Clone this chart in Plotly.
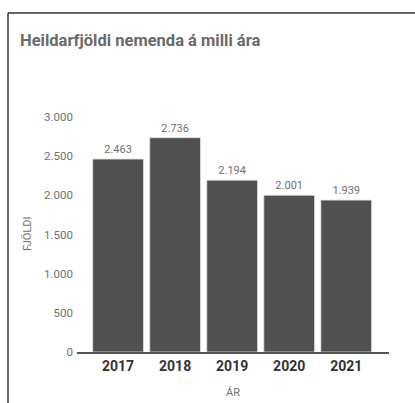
import plotly.graph_objects as go

years = ["2017", "2018", "2019", "2020", "2021"]
students = [2463, 2736, 2194, 2001, 1939]
y_ticks = [0, 500, 1000, 1500, 2000, 2500, 3000]
y_tick_labels = ["0", "500", "1.000", "1.500", "2.000", "2.500", "3.000"]
value_labels = ["2.463", "2.736", "2.194", "2.001", "1.939"]

W, H = 415, 403
L, R, T, B = 77, 26, 117, 51
pw, ph = W - L - R, H - T - B

def px(x):
    return (x - L) / pw

def py(y):
    return (H - B - y) / ph

FONT = "Liberation Sans Narrow, Roboto, sans-serif"

fig = go.Figure(go.Bar(
    x=years, y=students,
    text=value_labels, textposition="outside", cliponaxis=False,
    textfont=dict(size=11, color="#707070", family=FONT),
    marker=dict(color="#505050", line=dict(color="#e0e0e0", width=0.8)),
    width=0.89,
))

fig.update_layout(
    width=W, height=H,
    margin=dict(l=L, r=R, t=T, b=B),
    paper_bgcolor="white", plot_bgcolor="white",
    showlegend=False,
    separators=",.",
    title=dict(text="<b>Heildarfjöldi nemenda á milli ára</b>",
               x=20 / W, xref="container", xanchor="left",
               y=1 - 40 / H, yref="container", yanchor="middle",
               font=dict(size=16.5, color="#6a6a6a", family="Roboto, sans-serif")),
    xaxis=dict(type="category", range=[-0.72, 4.75], showline=True,
               linecolor="#555555", linewidth=1.5, showgrid=False, ticks="",
               tickfont=dict(size=14, color="#333333", family=FONT, weight="bold")),
    yaxis=dict(range=[0, 3000], tickvals=y_ticks, ticktext=y_tick_labels,
               showgrid=False, showline=False, zeroline=False, ticks="",
               ticklabelstandoff=3,
               tickfont=dict(size=11.5, color="#707070", family=FONT)),
    annotations=[
        dict(text="FJÖLDI", xref="paper", yref="paper", x=px(27), y=py(234),
             xanchor="center", yanchor="middle",
             textangle=-90, showarrow=False,
             font=dict(size=11, color="#707070", family=FONT)),
        dict(text="ÁR", xref="paper", yref="paper", x=px(233), y=py(392),
             xanchor="center", yanchor="middle",
             showarrow=False, font=dict(size=11, color="#707070", family=FONT)),
    ],
    shapes=[
        dict(type="line", xref="paper", yref="paper", x0=px(8), x1=px(W + 5),
             y0=py(13), y1=py(13), line=dict(color="#333333", width=1.5)),
        dict(type="line", xref="paper", yref="paper", x0=px(8), x1=px(8),
             y0=py(13), y1=py(H + 5), line=dict(color="#333333", width=1.5)),
    ],
)

fig.write_html("out.html", config={"displayModeBar": False},
               post_script="document.body.style.margin='0';document.body.style.overflow='hidden';")
